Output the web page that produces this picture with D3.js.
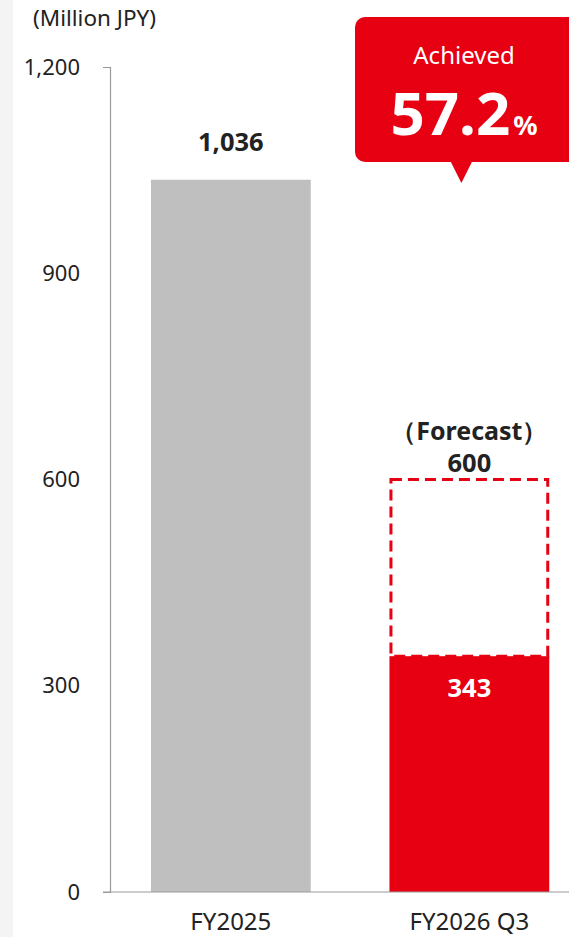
<!DOCTYPE html>
<html>
<head>
<meta charset="utf-8">
<script src="https://cdn.jsdelivr.net/npm/d3@7"></script>
<style>
  html, body { margin: 0; padding: 0; background: #fff; }
  svg { display: block; font-family: "Noto Sans", "Open Sans", sans-serif; }
</style>
</head>
<body>
<svg id="chart" width="569" height="937"></svg>
<script>
// ---- data
var categories = ['FY2025', 'FY2026 Q3'];
var actualValues = [1036, 343];
var forecastValues = [null, 600];
var yTicks = [0, 300, 600, 900, 1200];
var achievedRate = '57.2';

(function() {
  var W = 569, H = 937;
  var RED = '#e60012', GREY = '#bfbfbf', INK = '#222';

  var svg = d3.select('#chart');

  // light strip on the left edge
  svg.append('rect').attr('x', 0).attr('y', 0).attr('width', 13).attr('height', H).attr('fill', '#f4f4f4');

  var y = d3.scaleLinear().domain([0, 1200]).range([892, 67]);
  var x = d3.scaleBand().domain(categories).range([111.6, 588.6])
    .paddingInner(0.33).paddingOuter(0.165);

  // unit label
  svg.append('text').attr('x', 33).attr('y', 26)
    .attr('font-size', 22.5).attr('fill', INK).text('(Million JPY)');

  // y axis
  var yAxis = svg.append('g').attr('transform', 'translate(110,0)')
    .call(d3.axisLeft(y).tickValues(yTicks).tickFormat(d3.format(','))
      .tickSizeInner(0).tickSizeOuter(7).tickPadding(30));
  yAxis.select('.domain').attr('stroke', '#999').attr('stroke-width', 1.2);
  yAxis.selectAll('text').attr('font-size', 22).attr('fill', INK)
    .attr('font-family', '"Noto Sans", sans-serif');

  // bars
  var bars = svg.append('g');
  var mid = function(c) { return x(c) + x.bandwidth() / 2; };
  categories.forEach(function(c, i) {
    var v = actualValues[i];
    bars.append('rect')
      .attr('x', x(c)).attr('width', x.bandwidth())
      .attr('y', y(v)).attr('height', y(0) - y(v))
      .attr('fill', i === 0 ? GREY : RED);

    var f = forecastValues[i];
    if (f != null) {
      bars.append('rect')
        .attr('x', x(c) + 1.5).attr('width', x.bandwidth() - 3)
        .attr('y', y(f)).attr('height', y(v) - y(f))
        .attr('fill', 'none').attr('stroke', RED)
        .attr('stroke-width', 3).attr('stroke-dasharray', '11,6');
      svg.append('text').attr('x', mid(c)).attr('y', y(f) - 8)
        .attr('text-anchor', 'middle').attr('font-size', 25.5).attr('font-weight', 'bold')
        .attr('fill', INK).text(d3.format(',')(f));
      svg.append('text').attr('x', mid(c)).attr('y', y(f) - 40)
        .attr('text-anchor', 'middle').attr('font-size', 25).attr('font-weight', 'bold')
        .attr('fill', INK).text('（Forecast）');
      // value inside the red bar
      svg.append('text').attr('x', mid(c)).attr('y', y(v) + 41)
        .attr('text-anchor', 'middle').attr('font-size', 25.5).attr('font-weight', 'bold')
        .attr('fill', '#fff').text(d3.format(',')(v));
    } else {
      svg.append('text').attr('x', mid(c)).attr('y', y(v) - 29)
        .attr('text-anchor', 'middle').attr('font-size', 25.5).attr('font-weight', 'bold')
        .attr('fill', INK).text(d3.format(',')(v));
    }
  });

  // baseline
  svg.append('line').attr('x1', 103).attr('x2', W).attr('y1', y(0)).attr('y2', y(0))
    .attr('stroke', '#999').attr('stroke-width', 1.2);

  // category labels
  svg.append('g').selectAll('text').data(categories).join('text')
    .attr('x', mid)
    .attr('y', 930).attr('text-anchor', 'middle')
    .attr('font-size', 24).attr('fill', INK).text(function(d) { return d; });

  // "Achieved" callout
  var cx = mid(categories[1]) - 8;
  var callout = svg.append('g');
  callout.append('rect').attr('x', 355).attr('y', 17).attr('width', 230).attr('height', 145)
    .attr('rx', 10).attr('fill', RED);
  callout.append('path')
    .attr('d', 'M' + (cx - 11) + ',161 L' + (cx + 11) + ',161 L' + cx + ',183 Z')
    .attr('fill', RED);
  callout.append('text').attr('x', 464).attr('y', 64).attr('text-anchor', 'middle')
    .attr('font-size', 24).attr('fill', '#fff').text('Achieved');
  var big = callout.append('text').attr('x', 464).attr('y', 135).attr('text-anchor', 'middle')
    .attr('fill', '#fff').attr('font-weight', 'bold');
  big.append('tspan').attr('font-size', 60).text(achievedRate);
  big.append('tspan').attr('font-size', 27).attr('dx', 3).text('%');
})();
</script>
</body>
</html>
